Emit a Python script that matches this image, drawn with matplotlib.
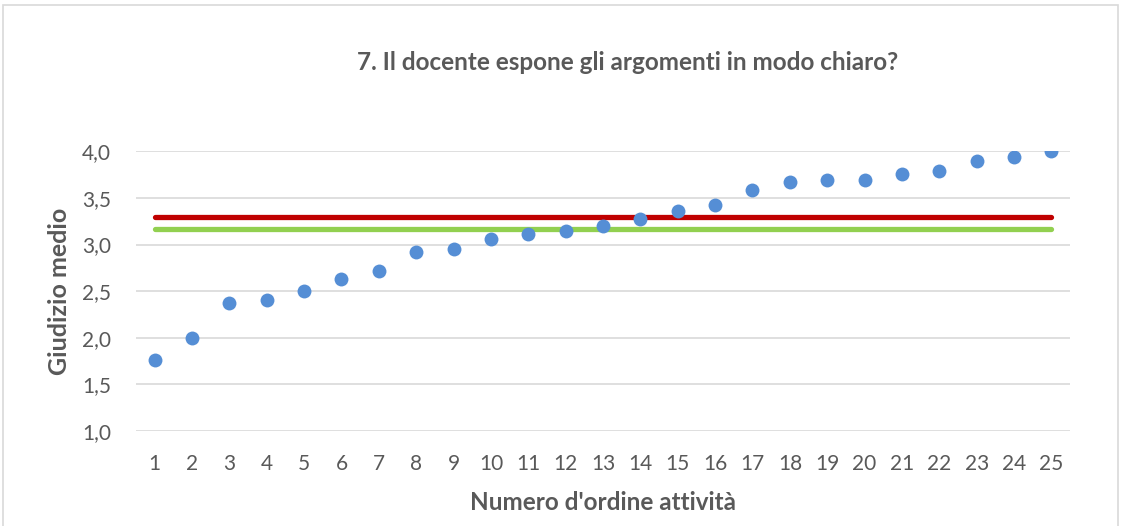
import matplotlib.pyplot as plt
from matplotlib.patches import Rectangle

# Data
attivita = list(range(1, 26))
giudizio = [1.76, 2.00, 2.37, 2.41, 2.50, 2.63, 2.72, 2.92, 2.95, 3.06,
            3.11, 3.15, 3.20, 3.28, 3.36, 3.42, 3.59, 3.67, 3.69, 3.69,
            3.76, 3.79, 3.90, 3.94, 4.00]
media_rossa = 3.30
media_verde = 3.165
y_ticks = [1.0, 1.5, 2.0, 2.5, 3.0, 3.5, 4.0]

plt.rcParams['font.family'] = ['Lato', 'DejaVu Sans']
grey = '#595959'

fig = plt.figure(figsize=(11.24, 5.26), dpi=100)
ax = fig.add_axes([0.121, 0.181, 0.831, 0.531])

# chart border (Excel chart area)
fig.patches.append(Rectangle((0.003, -0.01), 0.992, 1.0, transform=fig.transFigure,
                             fill=False, edgecolor='#D9D9D9', lw=1.2))

ax.plot([attivita[0], attivita[-1]], [media_rossa, media_rossa], color='#C00000',
        lw=3.8, solid_capstyle='round', zorder=2)
ax.plot([attivita[0], attivita[-1]], [media_verde, media_verde], color='#92D050',
        lw=3.8, solid_capstyle='round', zorder=2)
ax.plot(attivita, giudizio, 'o', color='#558ED5', markersize=10, markeredgewidth=0, zorder=3)

ax.set_xlim(0.5, 25.5)
ax.set_ylim(1.0, 4.0)
ax.set_yticks(y_ticks)
ax.set_yticklabels([('%.1f' % v).replace('.', ',') for v in y_ticks])
ax.set_xticks(attivita)
ax.grid(axis='y', color='#D9D9D9', lw=1.2, zorder=0)
ax.set_axisbelow(True)
for s in ax.spines.values():
    s.set_visible(False)
ax.tick_params(length=0, labelsize=15, labelcolor=grey)
ax.tick_params(axis='x', pad=17)
ax.tick_params(axis='y', pad=18)

ax.set_xlabel("Numero d'ordine attività", fontsize=17.5, fontweight='bold', color=grey, labelpad=12)
ax.set_ylabel('Giudizio medio', fontsize=18, fontweight='bold', color=grey, labelpad=8)
fig.text(0.558, 0.882, '7. Il docente espone gli argomenti in modo chiaro?', ha='center',
         va='center', fontsize=17.5, fontweight='bold', color=grey)

fig.savefig('out.png', dpi=100)
